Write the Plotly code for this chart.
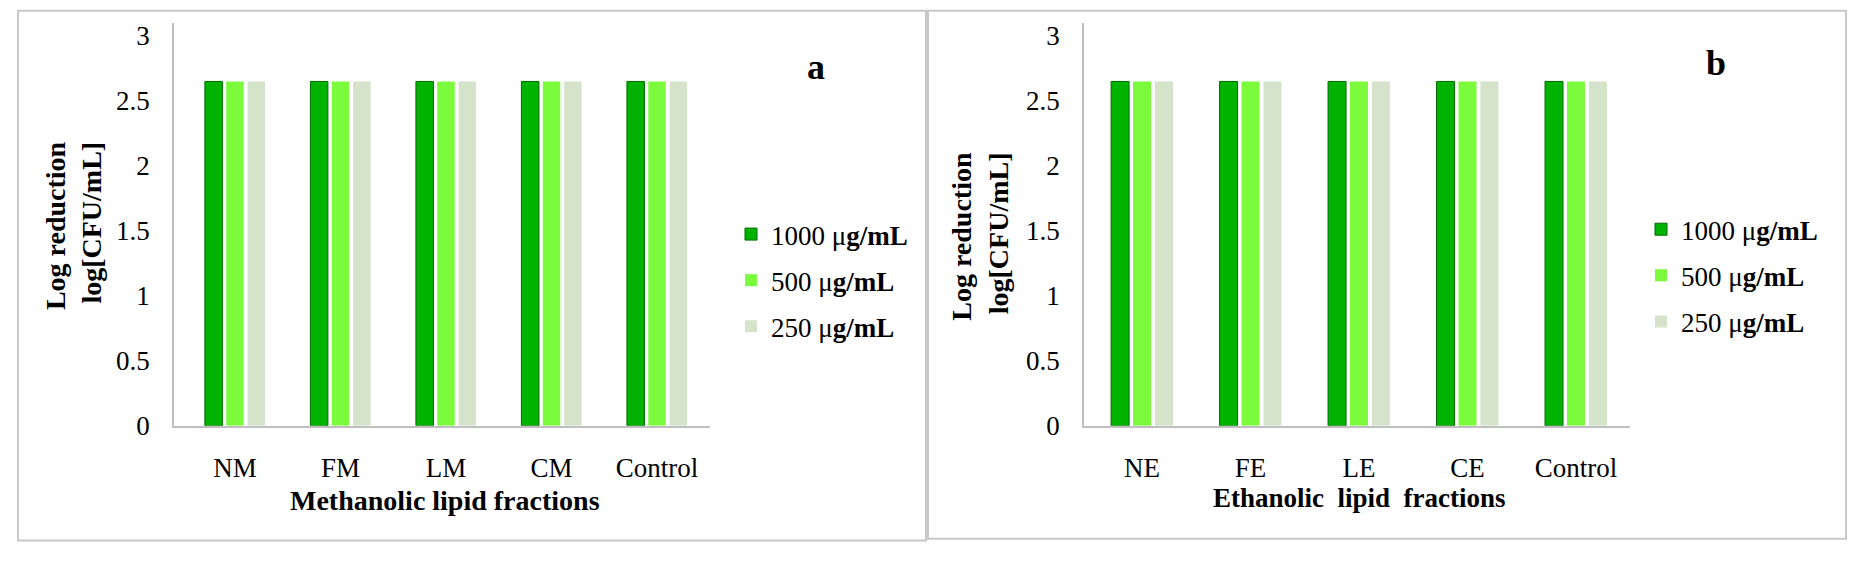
import plotly.graph_objects as go

W, H = 1866, 576
SERIF = "Liberation Serif, Times New Roman, serif"

# ---- data ----
cats_a = ["NM", "FM", "LM", "CM", "Control"]
cats_b = ["NE", "FE", "LE", "CE", "Control"]
series_names = ["1000 μ<b>g/mL</b>", "500 μ<b>g/mL</b>", "250 μ<b>g/mL</b>"]
a_1000 = [2.65, 2.65, 2.65, 2.65, 2.65]
a_500 = [2.65, 2.65, 2.65, 2.65, 2.65]
a_250 = [2.65, 2.65, 2.65, 2.65, 2.65]
b_1000 = [2.65, 2.65, 2.65, 2.65, 2.65]
b_500 = [2.65, 2.65, 2.65, 2.65, 2.65]
b_250 = [2.65, 2.65, 2.65, 2.65, 2.65]
y_ticks = [0, 0.5, 1, 1.5, 2, 2.5, 3]
y_tick_text = ["0", "0.5", "1", "1.5", "2", "2.5", "3"]

colors = ["#00B300", "#7CFA3C", "#D4E3CA"]
edge = ["#006A00", "rgba(0,0,0,0)", "rgba(0,0,0,0)"]

def px_x(v):
    return v / W

def px_y(v):
    return 1 - v / H

fig = go.Figure()

for i, (vals, name) in enumerate(zip([a_1000, a_500, a_250], series_names)):
    fig.add_trace(go.Bar(
        x=cats_a, y=vals, name=name, xaxis="x", yaxis="y",
        marker=dict(color=colors[i], line=dict(color=edge[i], width=1)),
        legend="legend", legendgroup="a%d" % i,
    ))
for i, (vals, name) in enumerate(zip([b_1000, b_500, b_250], series_names)):
    fig.add_trace(go.Bar(
        x=cats_b, y=vals, name=name, xaxis="x2", yaxis="y2",
        marker=dict(color=colors[i], line=dict(color=edge[i], width=1)),
        legend="legend2", legendgroup="b%d" % i,
    ))

tickfont = dict(family=SERIF, size=27, color="black")
ydom = [px_y(437), px_y(22.6)]

common_x = dict(type="category", showgrid=False, zeroline=False, showline=True,
                linecolor="#BFBFBF", linewidth=1.5, ticks="", tickfont=tickfont,
                ticklabelstandoff=17, fixedrange=True)
common_y = dict(range=[0, 3.1], tickvals=y_ticks, ticktext=y_tick_text, showgrid=False,
                zeroline=False, showline=True, linecolor="#BFBFBF", linewidth=1.5,
                ticks="", tickfont=tickfont, ticklabelstandoff=17, domain=ydom)

fig.update_layout(
    width=W, height=H,
    margin=dict(l=0, r=0, t=0, b=0),
    paper_bgcolor="white", plot_bgcolor="white",
    barmode="group", bargap=0.393, bargroupgap=0.18,
    xaxis=dict(domain=[px_x(174), px_x(710)], range=[-0.578, 4.502], anchor="y", **common_x),
    yaxis=dict(anchor="x", **common_y),
    xaxis2=dict(domain=[px_x(1084), px_x(1630)], range=[-0.535, 4.498], anchor="y2", **common_x),
    yaxis2=dict(anchor="x2", **common_y),
    legend=dict(x=px_x(731), y=px_y(215), xanchor="left", yanchor="top",
                font=dict(family=SERIF, size=27, color="black"), tracegroupgap=8,
                bgcolor="rgba(0,0,0,0)"),
    legend2=dict(x=px_x(1641), y=px_y(210), xanchor="left", yanchor="top",
                 font=dict(family=SERIF, size=27, color="black"), tracegroupgap=8,
                 bgcolor="rgba(0,0,0,0)"),
    showlegend=True,
    shapes=[
        dict(type="rect", xref="paper", yref="paper",
             x0=px_x(18), x1=px_x(926), y0=px_y(555), y1=px_y(10),
             line=dict(color="#C8C8C8", width=2)),
        dict(type="rect", xref="paper", yref="paper",
             x0=px_x(928), x1=px_x(1846), y0=px_y(553), y1=px_y(10),
             line=dict(color="#C8C8C8", width=2)),
    ],
    annotations=[
        dict(text="Log reduction<br>log[CFU/mL]", xref="paper", yref="paper",
             x=px_x(73.5), y=px_y(231), xanchor="center", yanchor="middle",
             textangle=-90, align="right", showarrow=False,
             font=dict(family=SERIF, size=28, color="black", weight="bold")),
        dict(text="Log reduction<br>log[CFU/mL]", xref="paper", yref="paper",
             x=px_x(979.5), y=px_y(242), xanchor="center", yanchor="middle",
             textangle=-90, align="right", showarrow=False,
             font=dict(family=SERIF, size=28, color="black", weight="bold")),
        dict(text="Methanolic lipid fractions", xref="paper", yref="paper",
             x=px_x(445), y=px_y(514), xanchor="center", yanchor="middle",
             showarrow=False, font=dict(family=SERIF, size=28, color="black", weight="bold")),
        dict(text="Ethanolic\u00a0\u00a0lipid\u00a0\u00a0fractions", xref="paper", yref="paper",
             x=px_x(1359), y=px_y(511), xanchor="center", yanchor="middle",
             showarrow=False, font=dict(family=SERIF, size=27, color="black", weight="bold")),
        dict(text="a", xref="paper", yref="paper",
             x=px_x(816), y=px_y(68), xanchor="center", yanchor="middle",
             showarrow=False, font=dict(family=SERIF, size=36, color="black", weight="bold")),
        dict(text="b", xref="paper", yref="paper",
             x=px_x(1716), y=px_y(64), xanchor="center", yanchor="middle",
             showarrow=False, font=dict(family=SERIF, size=36, color="black", weight="bold")),
    ],
)

fig.write_html("out.html")
